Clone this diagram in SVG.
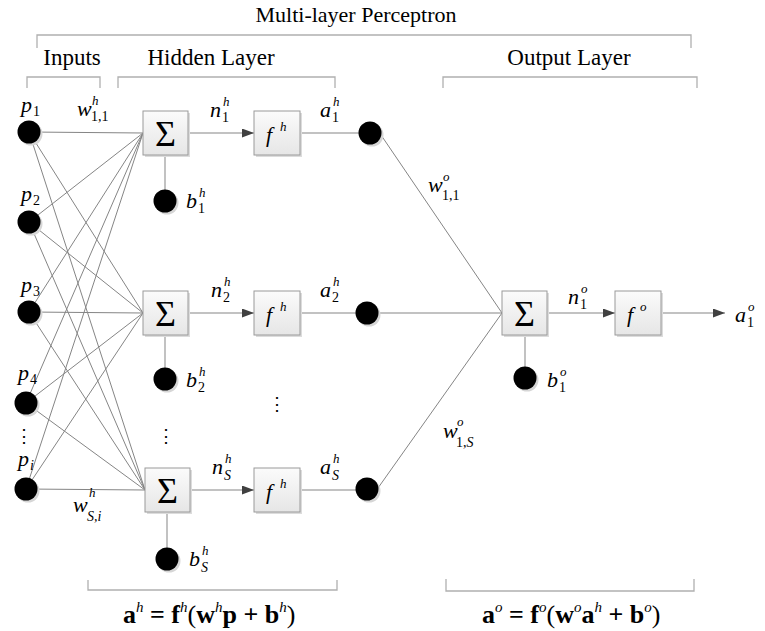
<svg xmlns="http://www.w3.org/2000/svg" width="765" height="631" viewBox="0 0 765 631" font-family="'Liberation Serif', 'Times New Roman', 'DejaVu Serif', serif">
<defs>
<linearGradient id="bg" x1="0" y1="0" x2="0" y2="1">
<stop offset="0" stop-color="#fbfbfb"/>
<stop offset="1" stop-color="#e6e6e6"/>
</linearGradient>
<marker id="arr" markerUnits="userSpaceOnUse" markerWidth="13" markerHeight="10" refX="12" refY="4.5" orient="auto">
<path d="M0,0 L12,4.5 L0,9 z" fill="#404040"/>
</marker>
</defs>
<style>
text{font-family:'Liberation Serif','Times New Roman','DejaVu Serif',serif;fill:#000}
.hdr{font-size:23px}
.ttl{font-size:22px}
.v{font-style:italic;font-size:22px}
.sb{font-style:normal;font-size:14px}
.sbi{font-style:italic;font-size:14px}
.sp{font-style:italic;font-size:13px}
.sig{font-size:36px;text-anchor:middle}
.fm{font-size:26px;font-weight:bold}
.fs{font-size:15px;font-style:italic;font-weight:normal}
.fp{font-weight:normal}
.conn{stroke:#858585;stroke-width:1;fill:none}
.ar{stroke:#858585;stroke-width:1;fill:none;marker-end:url(#arr)}
.brk{stroke:#b0b0b0;stroke-width:1.3;fill:none}
.box{fill:url(#bg);stroke:#9a9a9a;stroke-width:1}
.bsh{fill:#dcdcdc}
.nd{fill:#000}
.nsh{fill:#d6d6d6}
.dots{font-size:18px;text-anchor:middle}
</style>
<rect width="765" height="631" fill="#fff"/>

<g id="brackets">
<path class="brk" d="M37,48 V35 H691 V48"/>
<path class="brk" d="M27,88 V77 H100 V88"/>
<path class="brk" d="M118,88 V77 H335 V88"/>
<path class="brk" d="M443,88 V77 H697 V88"/>
<path class="brk" d="M88,580 V590 H337 V580"/>
<path class="brk" d="M446,579 V591 H694 V579"/>
</g>
<g id="headers">
<text class="ttl" x="356" y="22" text-anchor="middle">Multi-layer Perceptron</text>
<text class="hdr" x="72" y="65" text-anchor="middle">Inputs</text>
<text class="hdr" x="211" y="65" text-anchor="middle">Hidden Layer</text>
<text class="hdr" x="569" y="65" text-anchor="middle">Output Layer</text>
</g>

<g id="connectors">
<path class="conn" d="M29,132 L143,133 M29,132 L143,313 M29,132 L145,490"/>
<path class="conn" d="M29,222 L143,133 M29,222 L143,313 M29,222 L145,490"/>
<path class="conn" d="M29,312 L143,133 M29,312 L143,313 M29,312 L145,490"/>
<path class="conn" d="M26,403 L143,133 M26,403 L143,313 M26,403 L145,490"/>
<path class="conn" d="M26,489 L143,133 M26,489 L143,313 M26,489 L145,490"/>
<path class="ar" d="M188,133 L254,133"/>
<path class="ar" d="M188,313 L254,313"/>
<path class="ar" d="M190,490 L254,490"/>
<path class="conn" d="M300,133 L370,133"/>
<path class="conn" d="M300,313 L367,313"/>
<path class="conn" d="M300,490 L367,490"/>
<path class="conn" d="M165,155 L165,201 M165,335 L165,379 M167,512 L167,559 M525,335 L525,378"/>
<path class="conn" d="M381,135 L502,313 M378,313 L502,313 M378,488 L502,313"/>
<path class="ar" d="M547,313 L615,313"/>
<path class="ar" d="M661,313 L725,313"/>
</g>

<g id="p1"><circle class="nsh" cx="31" cy="134" r="11.5"/><circle class="nd" cx="29" cy="132" r="11.5"/>
<text x="21" y="112"><tspan class="v">p</tspan><tspan class="sb" x="33" y="116">1</tspan></text></g>
<g id="p2"><circle class="nsh" cx="31" cy="224" r="11.5"/><circle class="nd" cx="29" cy="222" r="11.5"/>
<text x="21" y="201"><tspan class="v">p</tspan><tspan class="sb" x="33" y="205">2</tspan></text></g>
<g id="p3"><circle class="nsh" cx="31" cy="314" r="11.5"/><circle class="nd" cx="29" cy="312" r="11.5"/>
<text x="21" y="292"><tspan class="v">p</tspan><tspan class="sb" x="33" y="296">3</tspan></text></g>
<g id="p4"><circle class="nsh" cx="28" cy="405" r="11.5"/><circle class="nd" cx="26" cy="403" r="11.5"/>
<text x="18" y="380"><tspan class="v">p</tspan><tspan class="sb" x="30" y="384">4</tspan></text></g>
<g id="pi"><circle class="nsh" cx="28" cy="491" r="11.5"/><circle class="nd" cx="26" cy="489" r="11.5"/>
<text x="18" y="466"><tspan class="v">p</tspan><tspan class="sbi" x="30" y="470">i</tspan></text></g>
<text class="dots" x="24" y="442">⋮</text>

<g id="w-labels">
<text x="77" y="116"><tspan class="v">w</tspan><tspan class="sb" x="91" y="121">1,1</tspan><tspan class="sp" x="92" y="105">h</tspan></text>
<text x="73" y="512"><tspan class="v">w</tspan><tspan class="sbi" x="87" y="521">S,i</tspan><tspan class="sp" x="89" y="497">h</tspan></text>
</g>

<g id="sum1"><rect class="bsh" x="145" y="113" width="45" height="44"/><rect class="box" x="143" y="111" width="45" height="44"/><text class="sig" x="165.5" y="146">Σ</text></g>
<g id="sum2"><rect class="bsh" x="145" y="293" width="45" height="44"/><rect class="box" x="143" y="291" width="45" height="44"/><text class="sig" x="165.5" y="326">Σ</text></g>
<g id="sumS"><rect class="bsh" x="147" y="470" width="45" height="44"/><rect class="box" x="145" y="468" width="45" height="44"/><text class="sig" x="167.5" y="503">Σ</text></g>

<g id="b1"><circle class="nsh" cx="167" cy="203" r="11.5"/><circle class="nd" cx="165" cy="201" r="11.5"/>
<text x="186" y="208"><tspan class="v">b</tspan><tspan class="sb" x="198" y="213">1</tspan><tspan class="sp" x="199" y="197">h</tspan></text></g>
<g id="b2"><circle class="nsh" cx="167" cy="381" r="11.5"/><circle class="nd" cx="165" cy="379" r="11.5"/>
<text x="186" y="387"><tspan class="v">b</tspan><tspan class="sb" x="198" y="392">2</tspan><tspan class="sp" x="199" y="376">h</tspan></text></g>
<g id="bS"><circle class="nsh" cx="169" cy="561" r="11.5"/><circle class="nd" cx="167" cy="559" r="11.5"/>
<text x="189" y="566"><tspan class="v">b</tspan><tspan class="sbi" x="201" y="572">S</tspan><tspan class="sp" x="202" y="555">h</tspan></text></g>
<text class="dots" x="166" y="442">⋮</text>

<g id="n-labels">
<text x="210" y="117"><tspan class="v">n</tspan><tspan class="sb" x="222" y="122">1</tspan><tspan class="sp" x="223" y="106">h</tspan></text>
<text x="211" y="297"><tspan class="v">n</tspan><tspan class="sb" x="223" y="302">2</tspan><tspan class="sp" x="224" y="286">h</tspan></text>
<text x="212" y="474"><tspan class="v">n</tspan><tspan class="sbi" x="224" y="480">S</tspan><tspan class="sp" x="225" y="463">h</tspan></text>
</g>

<g id="f1"><rect class="bsh" x="256" y="113" width="46" height="44"/><rect class="box" x="254" y="111" width="46" height="44"/>
<text x="266" y="142"><tspan class="v">f</tspan><tspan class="sp" x="280" y="131">h</tspan></text></g>
<g id="f2"><rect class="bsh" x="256" y="293" width="46" height="44"/><rect class="box" x="254" y="291" width="46" height="44"/>
<text x="266" y="322"><tspan class="v">f</tspan><tspan class="sp" x="280" y="311">h</tspan></text></g>
<g id="fS"><rect class="bsh" x="256" y="470" width="46" height="44"/><rect class="box" x="254" y="468" width="46" height="44"/>
<text x="266" y="499"><tspan class="v">f</tspan><tspan class="sp" x="280" y="488">h</tspan></text></g>
<text class="dots" x="277" y="410">⋮</text>

<g id="a1"><circle class="nsh" cx="372" cy="135" r="11.5"/><circle class="nd" cx="370" cy="133" r="11.5"/>
<text x="320" y="117"><tspan class="v">a</tspan><tspan class="sb" x="332" y="122">1</tspan><tspan class="sp" x="333" y="106">h</tspan></text></g>
<g id="a2"><circle class="nsh" cx="369" cy="315" r="11.5"/><circle class="nd" cx="367" cy="313" r="11.5"/>
<text x="320" y="297"><tspan class="v">a</tspan><tspan class="sb" x="332" y="302">2</tspan><tspan class="sp" x="333" y="286">h</tspan></text></g>
<g id="aS"><circle class="nsh" cx="369" cy="491" r="11.5"/><circle class="nd" cx="367" cy="489" r="11.5"/>
<text x="320" y="474"><tspan class="v">a</tspan><tspan class="sbi" x="332" y="480">S</tspan><tspan class="sp" x="333" y="463">h</tspan></text></g>

<g id="wo-labels">
<text x="428" y="192"><tspan class="v">w</tspan><tspan class="sb" x="442" y="200">1,1</tspan><tspan class="sp" x="443" y="181">o</tspan></text>
<text x="443" y="438"><tspan class="v">w</tspan><tspan class="sb" x="456" y="447">1,</tspan><tspan class="sbi">S</tspan><tspan class="sp" x="457" y="426">o</tspan></text>
</g>

<g id="sumO"><rect class="bsh" x="504" y="293" width="45" height="44"/><rect class="box" x="502" y="291" width="45" height="44"/><text class="sig" x="524.5" y="326">Σ</text></g>
<g id="bO"><circle class="nsh" cx="527" cy="380" r="11.5"/><circle class="nd" cx="525" cy="378" r="11.5"/>
<text x="547" y="387"><tspan class="v">b</tspan><tspan class="sb" x="559" y="392">1</tspan><tspan class="sp" x="560" y="376">o</tspan></text></g>
<text x="568" y="304"><tspan class="v">n</tspan><tspan class="sb" x="580" y="309">1</tspan><tspan class="sp" x="581" y="293">o</tspan></text>
<g id="fO"><rect class="bsh" x="617" y="293" width="46" height="44"/><rect class="box" x="615" y="291" width="46" height="44"/>
<text x="627" y="322"><tspan class="v">f</tspan><tspan class="sp" x="640" y="311">o</tspan></text></g>
<text x="735" y="322"><tspan class="v">a</tspan><tspan class="sb" x="747" y="327">1</tspan><tspan class="sp" x="748" y="311">o</tspan></text>

<g id="formulas">
<text class="fm" x="123" y="623" xml:space="preserve">a<tspan class="fs" dy="-11">h</tspan><tspan dy="11"> = f</tspan><tspan class="fs" dy="-11">h</tspan><tspan class="fp" dy="11">(</tspan>w<tspan class="fs" dy="-11">h</tspan><tspan dy="11">p + b</tspan><tspan class="fs" dy="-11">h</tspan><tspan class="fp" dy="11">)</tspan></text>
<text class="fm" x="482" y="623" xml:space="preserve">a<tspan class="fs" dy="-11">o</tspan><tspan dy="11"> = f</tspan><tspan class="fs" dy="-11">o</tspan><tspan class="fp" dy="11">(</tspan>w<tspan class="fs" dy="-11">o</tspan><tspan dy="11">a</tspan><tspan class="fs" dy="-11">h</tspan><tspan dy="11"> + b</tspan><tspan class="fs" dy="-11">o</tspan><tspan class="fp" dy="11">)</tspan></text>
</g>
</svg>
